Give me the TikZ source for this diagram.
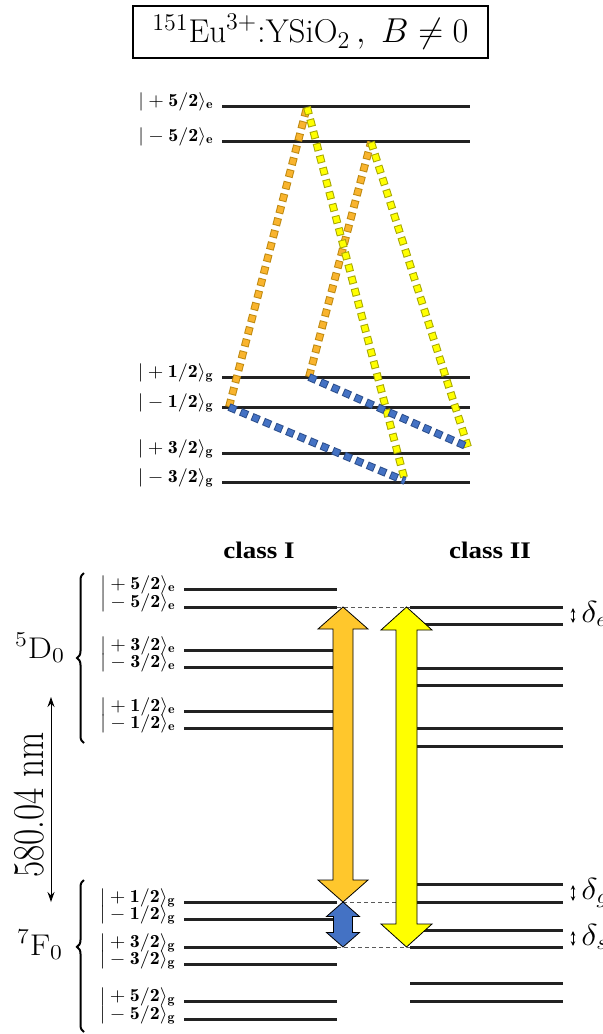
\documentclass[tikz,border=0pt]{standalone}
\usepackage{fontspec}
\newfontfamily\classfont{Liberation Serif}
\usetikzlibrary{calc,arrows.meta,decorations.pathreplacing}
\definecolor{orangeA}{HTML}{FFC72C}
\definecolor{orangeDot}{HTML}{F9B42E}
\definecolor{orangeEdge}{HTML}{C08A10}
\definecolor{yellowA}{HTML}{FFFF00}
\definecolor{yellowEdge}{HTML}{A8A800}
\definecolor{blueA}{HTML}{4472C4}
\definecolor{blueEdge}{HTML}{2C4F8C}
\definecolor{lvl}{HTML}{222222}
\newcommand{\kt}[3]{\scalebox{1}[0.92]{$|#1\mathbf{#2}\rangle_{\mathbf{#3}}$}}
\newcommand{\squash}[1]{\scalebox{1}[0.88]{#1}}
\newcommand{\lvlln}[4]{\coordinate (#1L) at (#3,#2); \coordinate (#1R) at (#4,#2); \draw[levelline] (#1L) -- (#1R);}
\newcommand{\sqdots}[4]{%
  \draw[draw=#2, line width=3.9pt, dash pattern=on 3.9pt off 2.35pt] (#3) -- (#4);
  \draw[draw=#1, line width=2.9pt, dash pattern=on 2.9pt off 3.35pt, dash phase=5.75pt] (#3) -- (#4);}
\newcommand{\dblarr}[6]{%
  \filldraw[#6] (#1) -- ($(#1)+(#4,#3)$) -- ($(#1)+(#5,#3)$) -- ($(#2)+(#5,-#3)$) -- ($(#2)+(#4,-#3)$) -- (#2)
   -- ($(#2)+(-#4,-#3)$) -- ($(#2)+(-#5,-#3)$) -- ($(#1)+(-#5,#3)$) -- ($(#1)+(-#4,#3)$) -- cycle;}
\tikzset{
  levelline/.style={draw=lvl, line width=1.5pt},
  lab/.style={anchor=base east, inner sep=0pt, font=\fontsize{10}{12}\selectfont},
  guide/.style={draw=gray!70!black, line width=0.5pt, dash pattern=on 2pt off 1.5pt},
  bigarrow/.style={draw=black, line width=0.4pt, line join=miter},
  classlab/.style={anchor=base, inner sep=0pt, font=\classfont\bfseries\fontsize{13.5}{15}\selectfont},
  termlab/.style={anchor=base, inner sep=0pt, font=\fontsize{17}{20}\selectfont},
  deltalab/.style={anchor=base west, inner sep=0pt, font=\fontsize{17}{20}\selectfont},
  smallarr/.style={{Stealth[length=2.4pt,width=2.2pt]}-{Stealth[length=2.4pt,width=2.2pt]}, line width=0.5pt},
  termbrace/.style={decorate, decoration={brace, amplitude=3.5pt}, line width=1pt},
}
\begin{document}
\begin{tikzpicture}[x=0.5pt,y=-0.5pt]
\useasboundingbox (0,0) rectangle (603,1034);

% title
\node[draw, line width=0.8pt, minimum width=177.5pt, minimum height=26pt, inner sep=0pt] (title) at (310.5,32)
  {\fontsize{16.5}{20}\selectfont $^{151}\mathrm{Eu}^{3+}{:}\mathrm{YSiO}_2\,,\ B\neq0$};

% top level scheme
\lvlln{ta}{106}{222}{470}
\lvlln{tb}{141}{222}{470}
\lvlln{tc}{377}{222}{470}
\lvlln{td}{407}{222}{470}
\lvlln{te}{453}{222}{470}
\lvlln{tf}{482}{222}{470}
\node[lab] (lta) at (214,106) {\kt{+}{5/2}{e}};
\node[lab] (ltb) at (214,141) {\kt{-}{5/2}{e}};
\node[lab] (ltc) at (214,377) {\kt{+}{1/2}{g}};
\node[lab] (ltd) at (214,407) {\kt{-}{1/2}{g}};
\node[lab] (lte) at (214,453) {\kt{+}{3/2}{g}};
\node[lab] (ltf) at (214,482) {\kt{-}{3/2}{g}};

\coordinate (A) at (229,407);
\coordinate (B) at (307,107);
\coordinate (C) at (405,481);
\coordinate (D) at (309,377);
\coordinate (E) at (371,142);
\coordinate (F) at (468,447);
\sqdots{orangeDot}{orangeEdge}{A}{B}
\sqdots{orangeDot}{orangeEdge}{D}{E}
\sqdots{yellowA}{yellowEdge}{B}{C}
\sqdots{yellowA}{yellowEdge}{E}{F}
\sqdots{blueA}{blueEdge}{A}{C}
\sqdots{blueA}{blueEdge}{D}{F}

% class headings
\node[classlab] (c1) at (259,558) {\squash{class I}};
\node[classlab] (c2) at (490,558) {\squash{class II}};

% class I levels
\lvlln{pa}{589}{184}{337}
\lvlln{pb}{607}{184}{337}
\lvlln{pc}{650}{184}{337}
\lvlln{pd}{667}{184}{337}
\lvlln{pe}{711}{184}{337}
\lvlln{pf}{728}{184}{337}
\lvlln{pg}{902}{184}{337}
\lvlln{ph}{919}{184}{337}
\lvlln{pi}{947}{184}{337}
\lvlln{pj}{964}{184}{337}
\lvlln{pk}{1001}{184}{337}
\lvlln{pl}{1019}{184}{337}
\node[lab] (lpa) at (176,589) {\kt{+}{5/2}{e}};
\node[lab] (lpb) at (176,607) {\kt{-}{5/2}{e}};
\node[lab] (lpc) at (176,650) {\kt{+}{3/2}{e}};
\node[lab] (lpd) at (176,667) {\kt{-}{3/2}{e}};
\node[lab] (lpe) at (176,711) {\kt{+}{1/2}{e}};
\node[lab] (lpf) at (176,728) {\kt{-}{1/2}{e}};
\node[lab] (lpg) at (176,902) {\kt{+}{1/2}{g}};
\node[lab] (lph) at (176,919) {\kt{-}{1/2}{g}};
\node[lab] (lpi) at (176,947) {\kt{+}{3/2}{g}};
\node[lab] (lpj) at (176,964) {\kt{-}{3/2}{g}};
\node[lab] (lpk) at (176,1001) {\kt{+}{5/2}{g}};
\node[lab] (lpl) at (176,1019) {\kt{-}{5/2}{g}};

% class II levels
\lvlln{qa}{607}{410}{563}
\lvlln{qb}{624}{410}{563}
\lvlln{qc}{668}{410}{563}
\lvlln{qd}{685}{410}{563}
\lvlln{qe}{728}{410}{563}
\lvlln{qf}{746}{410}{563}
\lvlln{qg}{884}{410}{563}
\lvlln{qh}{902}{410}{563}
\lvlln{qi}{930}{410}{563}
\lvlln{qj}{947}{410}{563}
\lvlln{qk}{983}{410}{563}
\lvlln{ql}{1001}{410}{563}

% guide lines
\coordinate (oT) at (343,607);
\coordinate (oB) at (343,902);
\coordinate (yT) at (406.5,607);
\coordinate (yB) at (406.5,947);
\coordinate (bT) at (343,902);
\coordinate (bB) at (343,947);
\draw[guide] (pbR) -- (qaL);
\draw[guide] (oB) -- (qhL);
\draw[guide] (piR) -- (qjL);

% big arrows
\dblarr{oT}{oB}{22}{25}{10}{bigarrow, fill=orangeA}
\dblarr{yT}{yB}{23}{25.5}{10.5}{bigarrow, fill=yellowA}
\dblarr{bT}{bB}{14.5}{16.5}{9.5}{bigarrow, fill=blueA}

% splittings
\coordinate (de1) at (573,608); \coordinate (de2) at (573,623);
\coordinate (dg1) at (573,885); \coordinate (dg2) at (573,901);
\coordinate (ds1) at (573,931); \coordinate (ds2) at (573,946);
\draw[smallarr] (de1) -- (de2);
\draw[smallarr] (dg1) -- (dg2);
\draw[smallarr] (ds1) -- (ds2);
\node[deltalab] (dle) at (581,622) {\squash{$\delta_e$}};
\node[deltalab] (dlg) at (581,899) {\squash{$\delta_g$}};
\node[deltalab] (dls) at (581,945) {\squash{$\delta_s$}};

% terms
\draw[termbrace] (84,743) -- (84,573) coordinate (braceD);
\draw[termbrace, decoration={brace, amplitude=3.5pt, aspect=0.56}] (84,1032) -- (84,880) coordinate (braceF);
\node[termlab] (tD) at (40,658) {\squash{$^5\mathrm{D}_0$}};
\node[termlab] (tF) at (40,955) {\squash{$^7\mathrm{F}_0$}};

% wavelength
\coordinate (wT) at (51,697);
\coordinate (wB) at (51,902);
\draw[{Stealth[length=5pt,width=3.5pt]}-{Stealth[length=5pt,width=3.5pt]}, line width=0.5pt] (wT) -- (wB);
\node[rotate=90, anchor=base, inner sep=0pt, font=\fontsize{22}{24}\selectfont] (wl) at (43,805) {\scalebox{0.8}[1]{580.04 nm}};
\end{tikzpicture}
\end{document}
